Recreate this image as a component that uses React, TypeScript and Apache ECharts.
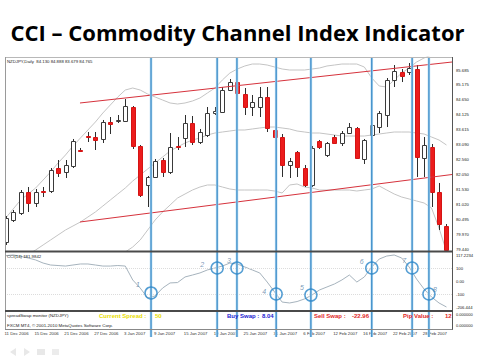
import React, { useEffect, useRef } from 'react';
import * as echarts from 'echarts';

// ---- tick labels ----
const priceTicks = ['79.440', '79.970', '80.495', '81.020', '81.530', '82.050', '82.560', '83.090', '83.615', '84.125', '84.650', '85.175', '85.685'];
const cciTicks = ['-206.444', '-100', '0.00', '100', '117.2234'];
const dateTicks = ['11 Dec 2006', '15 Dec 2006', '21 Dec 2006', '27 Dec 2006', '3 Jan 2007', '9 Jan 2007', '15 Jan 2007', '19 Jan 2007', '25 Jan 2007', '31 Jan 2007', '6 Feb 2007', '12 Feb 2007', '16 Feb 2007', '22 Feb 2007', '28 Feb 2007'];

// ---- daily candles [open, close, low, high] ----
const candles = [
  [79.684, 80.522, 79.580, 80.591], [80.452, 80.731, 80.382, 80.801], [80.696, 81.429, 80.626, 81.498],
  [81.429, 81.045, 80.731, 81.603], [81.045, 81.429, 80.905, 81.533], [81.463, 81.446, 81.254, 81.603],
  [81.463, 82.196, 81.394, 82.266], [82.266, 82.092, 81.952, 82.545], [82.127, 82.371, 81.917, 82.545],
  [82.336, 83.208, 82.266, 83.278], [82.894, 82.877, 82.824, 82.964], [83.382, 83.365, 83.173, 83.522],
  [83.347, 83.243, 82.894, 83.522], [83.278, 83.871, 83.138, 83.941], [83.871, 83.818, 83.452, 84.045],
  [83.941, 83.958, 83.836, 84.115], [83.906, 84.429, 83.871, 84.673], [84.394, 83.034, 82.929, 84.429],
  [83.034, 81.324, 81.254, 83.068], [81.673, 81.952, 80.905, 81.987], [81.952, 82.510, 81.917, 82.580],
  [82.545, 82.127, 81.952, 82.615], [82.127, 82.999, 82.057, 83.487], [83.034, 83.016, 82.894, 83.347],
  [83.313, 83.836, 82.999, 84.115], [83.836, 83.173, 83.068, 84.080], [83.173, 83.522, 83.103, 83.627],
  [83.417, 84.185, 83.347, 84.394], [84.185, 84.255, 84.115, 84.394], [84.220, 84.987, 84.185, 85.092],
  [84.987, 85.266, 84.952, 85.371], [85.266, 84.883, 84.813, 85.336], [84.848, 84.394, 84.115, 85.057],
  [84.394, 84.569, 84.080, 84.813], [84.394, 84.743, 84.045, 85.092], [84.743, 83.662, 83.522, 85.092],
  [83.592, 83.347, 83.313, 83.627], [83.347, 82.371, 81.952, 83.452], [82.371, 82.510, 81.917, 82.615],
  [82.824, 82.301, 81.952, 82.859], [82.266, 81.673, 81.603, 82.371], [81.673, 82.964, 81.603, 83.034],
  [83.208, 82.999, 82.929, 83.243], [82.720, 83.138, 82.650, 83.173], [83.347, 83.138, 83.103, 83.417],
  [83.138, 83.487, 83.034, 83.557], [83.487, 83.696, 83.452, 83.836], [83.662, 82.615, 82.580, 83.696],
  [82.580, 83.243, 82.406, 83.278], [83.417, 83.766, 83.313, 83.836], [83.696, 84.185, 83.487, 84.255],
  [84.115, 85.336, 83.696, 85.406], [85.336, 85.650, 85.092, 85.859], [85.615, 85.476, 85.266, 85.720],
  [85.615, 85.755, 85.511, 85.929], [85.720, 82.650, 81.952, 85.859], [82.615, 83.068, 81.952, 83.347],
  [82.999, 81.429, 80.905, 83.103], [81.429, 80.312, 80.103, 81.743], [80.243, 79.405, 79.335, 80.312],
];

// ---- Bollinger bands (null = not drawn) ----
const upperBand = [
  80.522, 80.836, 81.150, 81.359, 81.568, 81.847, 82.127, 82.441, 82.720, 83.034,
  83.313, 83.592, 83.871, 84.185, 84.464, 84.743, 84.987, 85.057, 84.987, 84.848,
  84.743, 84.638, 84.534, 84.499, 84.534, 84.604, 84.708, 84.883, 85.057, 85.336,
  85.580, 85.720, 85.825, 85.894, 85.894, 85.859, 85.790, 85.720, 85.685, 85.685,
  85.685, 85.720, 85.755, 85.825, 85.859, 85.894, 85.894, 85.894, 85.790, 85.406,
  85.127, 85.092, 85.336, 85.580, 85.755, 85.964, 86.104, 86.208, 86.278, 86.313,
];
const middleBand = [
  null, null, null, 79.250, 79.405, 79.580, 79.754, 79.929, 80.103, 80.243,
  80.382, 80.556, 80.731, 80.940, 81.150, 81.359, 81.568, 81.812, 82.022, 82.231,
  82.441, 82.650, 82.859, 82.999, 83.138, 83.243, 83.313, 83.417, 83.487, 83.522,
  83.557, 83.592, 83.592, 83.627, 83.662, 83.696, 83.696, 83.662, 83.627, 83.557,
  83.522, 83.487, 83.487, 83.452, 83.417, 83.382, 83.382, 83.382, 83.382, 83.417,
  83.452, 83.487, 83.522, 83.522, 83.522, 83.487, 83.452, 83.347, 83.243, 83.068,
];
const lowerBand = [
  null, null, null, null, null, null, null, null, null, null,
  null, null, null, null, null, 79.231, 79.336, 79.510, 79.754, 80.103,
  80.452, 80.731, 80.975, 81.219, 81.359, 81.498, 81.603, 81.673, 81.673, 81.603,
  81.533, 81.498, 81.498, 81.498, 81.498, 81.498, 81.463, 81.394, 81.673, 81.708,
  81.603, 81.568, 81.498, 81.498, 81.498, 81.498, 81.498, 81.463, 81.498, 81.533,
  81.638, 81.498, 81.359, 81.254, 81.185, 81.115, 81.045, 80.871, 80.173, 79.350,
];

// ---- CCI values ----
const cciValues = [
  195, 200, 190, 177, 162, 138, 123, 119, 115, 123,
  131, 131, 123, 115, 115, 119, 115, 8, -54, -131,
  -115, -54, -15, -12, 31, 46, 62, 85, 100, 115,
  138, 131, 108, 85, 62, -8, -85, -162, -169, -158,
  -138, -108, -69, -46, -23, 8, 46, -8, 31, 108,
  169, 192, 200, 177, 108, 15, -62, -123, -169, -200,
];
const cciLevels = [100, -100];

// ---- hand-drawn annotations ----
const upperChannel = [[9.94, 84.534], [59.74, 85.964]];
const lowerChannel = [[9.94, 80.382], [59.74, 82.039]];
const markerBars = [19.45, 28.3, 30.95, 36.2, 40.85, 49.0, 54.4, 56.65];
const markerCci = [-92, 100, 100, -100, -108, 100, 100, -100];
const markerLabels = ['1', '2', '3', '4', '5', '6', '7', '8'];

// styling offsets for the marker numbers
const labelOffsets = [[-13, -8], [-15, -3], [-8, -7], [-12, -2], [-9, -8], [-10, -6], [-8, -7], [6, -4]];

const SMALL = '"Liberation Sans", Arial, sans-serif';
const X_MIN = -0.1;
const X_MAX = 59.74;

const renderCandle = (_params: any, api: any) => {
  const i = api.value(0);
  const o = api.value(1);
  const c = api.value(2);
  const l = api.value(3);
  const h = api.value(4);
  const pO = api.coord([i, o]);
  const pC = api.coord([i, c]);
  const pL = api.coord([i, l]);
  const pH = api.coord([i, h]);
  const cx = Math.round(pO[0]) + 0.5;
  const bull = c >= o;
  const top = Math.round(Math.min(pO[1], pC[1])) + 0.5;
  const bot = Math.round(Math.max(pO[1], pC[1])) + 0.5;
  const hgt = Math.max(1, bot - top);
  return {
    type: 'group',
    children: [
      { type: 'line', shape: { x1: cx, y1: pH[1], x2: cx, y2: pL[1] }, style: { stroke: '#2e2e2e', lineWidth: 1 } },
      {
        type: 'rect',
        shape: { x: cx - 2, y: top, width: 4, height: hgt },
        style: { fill: bull ? '#ffffff' : '#ec1c1c', stroke: bull ? '#3a3a3a' : '#d41414', lineWidth: 1 },
      },
    ],
  };
};

const bandSeries = (data: (number | null)[]) => ({
  type: 'line',
  xAxisIndex: 0,
  yAxisIndex: 0,
  data: data.map((v, i) => [i, v]).filter((d) => d[1] != null),
  showSymbol: false,
  symbol: 'none',
  silent: true,
  clip: true,
  z: 1,
  lineStyle: { color: '#c4c4c4', width: 1 },
});

const channelSeries = (pts: number[][]) => ({
  type: 'line',
  xAxisIndex: 0,
  yAxisIndex: 0,
  data: pts,
  symbol: 'none',
  silent: true,
  clip: true,
  z: 3,
  lineStyle: { color: '#d6323c', width: 1 },
});

const hiddenAxis = (gridIndex: number) => ({ gridIndex, type: 'value', show: false });

const labelAxis = (gridIndex: number, data: string[]) => ({
  gridIndex,
  type: 'category',
  data,
  boundaryGap: false,
  position: 'right',
  axisLine: { show: false },
  axisTick: { show: false },
  splitLine: { show: false },
  axisLabel: { interval: 0, margin: 3, fontSize: 4.2, color: '#222', fontFamily: SMALL },
});

const option: any = {
  animation: false,
  backgroundColor: '#ffffff',
  grid: [
    { left: 5, top: 57, width: 447, height: 194 },
    { left: 452, top: 70, width: 1, height: 179 },
    { left: 5, top: 253, width: 447, height: 58 },
    { left: 452, top: 255, width: 1, height: 52 },
    { left: 4.5, top: 320, width: 59 * 7.47, height: 10 },
  ],
  xAxis: [
    { gridIndex: 0, type: 'value', min: X_MIN, max: X_MAX, show: false },
    hiddenAxis(1),
    { gridIndex: 2, type: 'value', min: X_MIN, max: X_MAX, show: false },
    hiddenAxis(3),
    {
      gridIndex: 4,
      type: 'value',
      min: 0,
      max: 59,
      interval: 4,
      axisLine: { show: false },
      axisTick: { show: false },
      splitLine: { show: false },
      axisLabel: {
        margin: 1.5,
        align: 'left',
        fontSize: 4.3,
        color: '#333',
        fontFamily: SMALL,
        formatter: (v: number) => {
          const k = Math.round(v);
          if (Math.abs(v - k) > 1e-6 || k % 4 !== 0) return '';
          return dateTicks[k / 4] ?? '';
        },
      },
    },
  ],
  yAxis: [
    { gridIndex: 0, type: 'value', min: 79.37, max: 86.139, show: false },
    labelAxis(1, priceTicks),
    { gridIndex: 2, type: 'value', min: -230.77, max: 215.38, show: false },
    labelAxis(3, cciTicks),
    hiddenAxis(4),
  ],
  series: [
    bandSeries(upperBand),
    bandSeries(middleBand),
    bandSeries(lowerBand),
    {
      type: 'custom',
      xAxisIndex: 0,
      yAxisIndex: 0,
      renderItem: renderCandle,
      data: candles.map((c, i) => [i, ...c]),
      encode: { x: 0, y: [1, 2, 3, 4] },
      clip: true,
      silent: true,
      z: 2,
    },
    channelSeries(upperChannel),
    channelSeries(lowerChannel),
    {
      type: 'line',
      xAxisIndex: 2,
      yAxisIndex: 2,
      data: cciValues.map((v, i) => [i, v]),
      symbol: 'none',
      silent: true,
      clip: true,
      z: 2,
      lineStyle: { color: '#a6b3bd', width: 1 },
      markLine: {
        silent: true,
        symbol: 'none',
        label: { show: false },
        lineStyle: { color: '#dcdcdc', type: 'dotted', width: 1 },
        data: cciLevels.map((v) => ({ yAxis: v })),
      },
    },
    {
      type: 'scatter',
      xAxisIndex: 2,
      yAxisIndex: 2,
      symbol: 'circle',
      symbolSize: 12,
      silent: true,
      z: 10,
      itemStyle: { color: 'rgba(0,0,0,0)', borderColor: '#2a86c8', borderWidth: 1.5 },
      label: {
        show: true,
        position: 'inside',
        fontStyle: 'italic',
        fontSize: 7,
        color: '#5a7fa6',
        fontFamily: SMALL,
        formatter: (p: any) => markerLabels[p.dataIndex],
      },
      data: markerBars.map((b, i) => ({ value: [b, markerCci[i]], label: { offset: labelOffsets[i] } })),
    },
  ],
};

const txt = (text: string, x: number, y: number, size: number, fill: string, weight = 'normal', family = SMALL) => ({
  type: 'text',
  x,
  y,
  silent: true,
  z: 20,
  style: { text, fontSize: size, fontWeight: weight, fontFamily: family, fill, align: 'left', verticalAlign: 'middle' },
});

const ln = (x1: number, y1: number, x2: number, y2: number, stroke: string, lineWidth = 1, z = 8) => ({
  type: 'line',
  silent: true,
  z,
  shape: { x1, y1, x2, y2 },
  style: { stroke, lineWidth },
});

const staticGraphics = [
  {
    type: 'text',
    x: 237.5,
    y: 32,
    silent: true,
    z: 20,
    style: {
      text: 'CCI – Commodity Channel Index Indicator',
      fontSize: 22,
      fontWeight: 'bold',
      fontFamily: '"Open Sans", sans-serif',
      fill: '#000',
      align: 'center',
      verticalAlign: 'middle',
    },
  },
  ln(5, 57.5, 452, 57.5, '#b8b8b8'),
  ln(5.5, 57, 5.5, 330, '#9a9a9a'),
  ln(452.5, 57, 452.5, 330, '#555'),
  { type: 'rect', silent: true, z: 8, shape: { x: 5, y: 250.5, width: 448, height: 2 }, style: { fill: '#4a4a4a' } },
  { type: 'rect', silent: true, z: 8, shape: { x: 5, y: 310, width: 448, height: 2 }, style: { fill: '#4a4a4a' } },
  ln(5, 329.5, 452.5, 329.5, '#888'),
  txt('NZDJPY,Daily  84.130 84.888 83.679 84.765', 7, 61, 4.3, '#222'),
  txt('CCI(14) 181.9842', 7, 256, 4.3, '#222'),
  txt('spreadSwap monitor (NZDJPY)', 7, 315, 4.4, '#222'),
  txt('FXCM MT4, © 2001-2010 MetaQuotes Software Corp.', 7, 325, 4.4, '#222'),
  txt('Current Spread :', 99, 316, 6, '#e8dc00', 'bold'),
  txt('50', 155, 316, 6, '#e8dc00', 'bold'),
  txt('Buy Swap :', 227, 316, 6, '#1c1cd0', 'bold'),
  txt('8.04', 262, 316, 6, '#1c1cd0', 'bold'),
  txt('Sell Swap :', 314, 316, 6, '#e02828', 'bold'),
  txt('-22.96', 352, 316, 6, '#e02828', 'bold'),
  txt('Pip Value :', 403, 316, 6, '#e02828', 'bold'),
  txt('12', 445, 316, 6, '#e02828', 'bold'),
  txt('0.000000', 456, 314, 4, '#222'),
  txt('0.000000', 456, 325, 4, '#222'),
  { type: 'polygon', silent: true, shape: { points: [[10, 352], [16, 348], [16, 356]] }, style: { fill: '#e8e8e8' } },
  { type: 'polygon', silent: true, shape: { points: [[30, 352], [24, 348], [24, 356]] }, style: { fill: '#e8e8e8' } },
  { type: 'rect', silent: true, shape: { x: 37, y: 349, width: 8, height: 6 }, style: { fill: '#e8e8e8' } },
  { type: 'rect', silent: true, shape: { x: 52, y: 349, width: 7, height: 6 }, style: { fill: '#ececec' } },
];

export default function App() {
  const ref = useRef<HTMLDivElement>(null);
  useEffect(() => {
    if (!ref.current) return;
    const chart = echarts.init(ref.current, undefined, { renderer: 'svg' });
    chart.setOption(option);
    const xs = markerBars.map((b) => chart.convertToPixel({ xAxisIndex: 0 }, b) as number);
    const vlines: any[] = [];
    xs.forEach((x) => {
      vlines.push(ln(x, 57, x, 337, '#b9ddf3', 2.6, 6));
      vlines.push(ln(x, 57, x, 337, '#2a80c2', 1.1, 7));
    });
    chart.setOption({ graphic: [...staticGraphics, ...vlines] });
    return () => chart.dispose();
  }, []);
  return (
    <div
      ref={ref}
      style={{ position: 'fixed', left: 0, top: 0, width: 480, height: 360, background: '#fff' }}
    />
  );
}
